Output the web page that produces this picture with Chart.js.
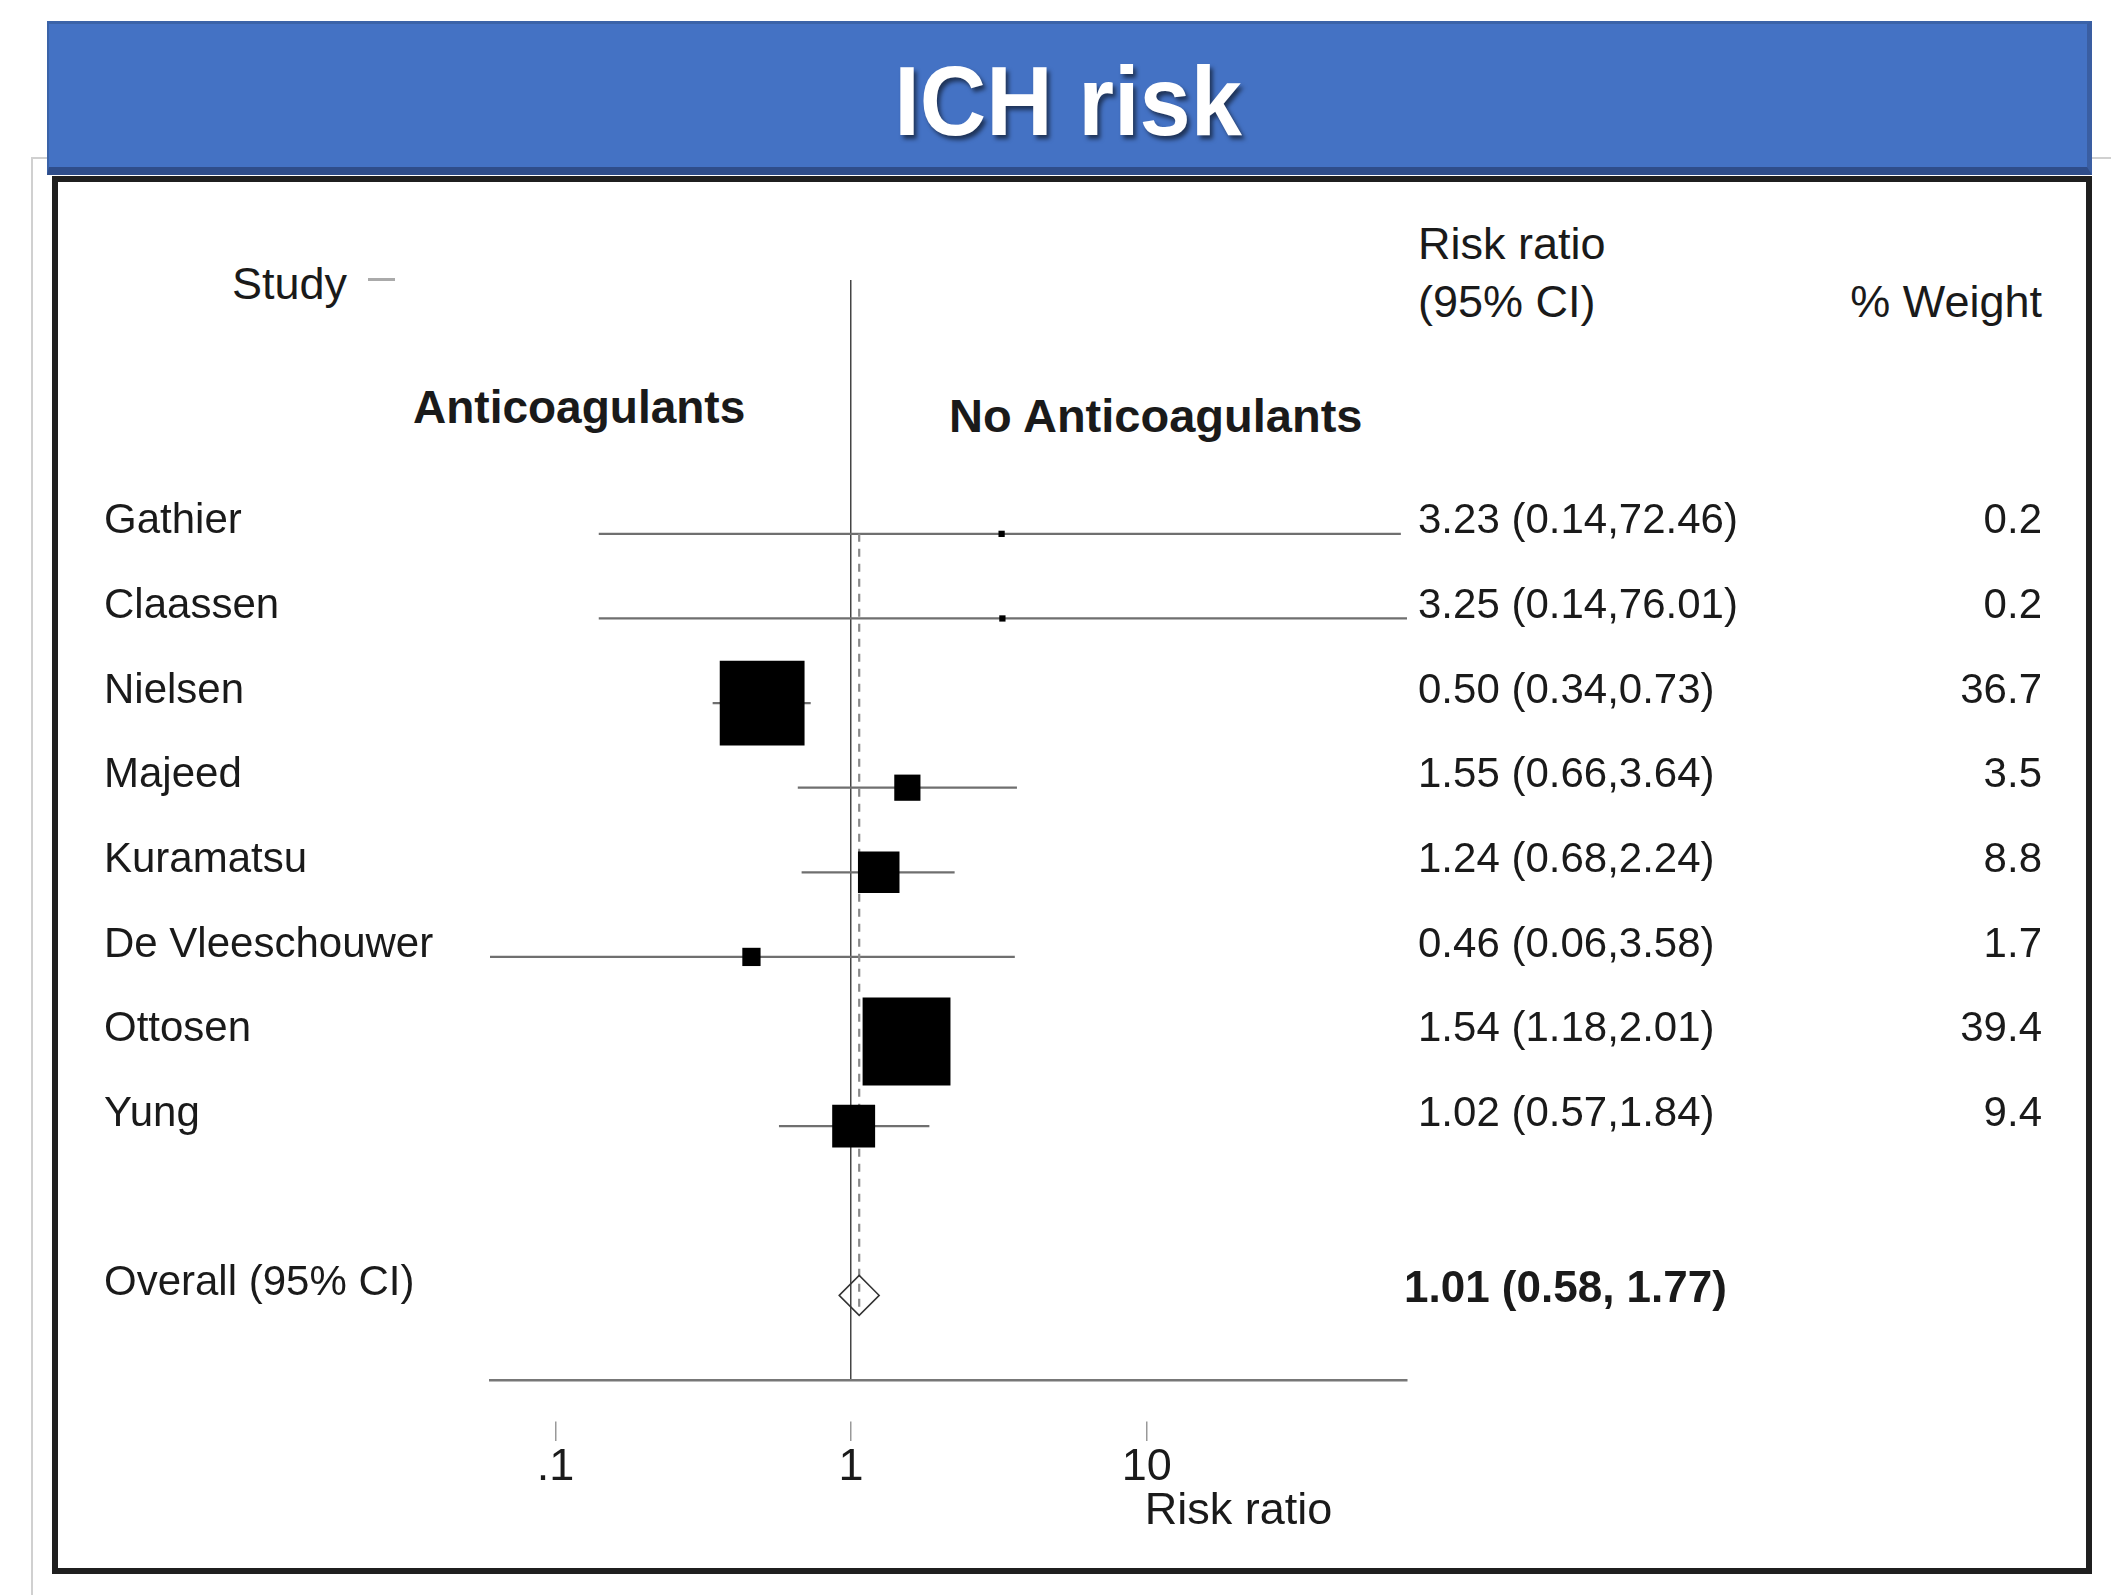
<!DOCTYPE html>
<html>
<head>
<meta charset="utf-8">
<script src="https://cdn.jsdelivr.net/npm/chart.js@4.4.1/dist/chart.umd.min.js"></script>
<style>
  html, body { margin: 0; padding: 0; background: #fff; }
  body { width: 2111px; height: 1595px; position: relative; overflow: hidden;
         font-family: "Liberation Sans", Arial, sans-serif; color: #1a1a1a; }
  .slide { position: absolute; left: 31px; top: 157px; width: 2200px; height: 1600px;
           border: 2px solid #d0d0d0; }
  .banner { position: absolute; left: 47px; top: 21px; width: 2045px; height: 154px;
            box-sizing: border-box; background: #4472c4;
            border-top: 3px solid #3b63a8; border-left: 2px solid #3b63a8;
            border-right: 5px solid #3a5ea2; border-bottom: 8px solid #2f4d8a; }
  .banner h1 { margin: 0; position: absolute; left: 0; right: 0; top: 31px;
               text-align: center; font-size: 92px; line-height: 1; font-weight: bold;
               color: #fff; text-shadow: 3px 4px 4px rgba(0,0,0,0.55);
               transform: scaleY(1.06); }
  .box { position: absolute; left: 52px; top: 176px; width: 2040px; height: 1398px;
         box-sizing: border-box; border: 6px solid #1f1f1f; background: #fff; }
  .hd { position: absolute; font-size: 45px; line-height: 1; white-space: nowrap; }
  .bold { font-weight: bold; }
  .dash { position: absolute; left: 368px; top: 278px; width: 27px; height: 3px; background: #aaa; }
  #wrap { position: absolute; left: 0; top: 0; width: 2111px; height: 1595px; }
</style>
</head>
<body>
<div class="slide"></div>
<div class="banner"><h1>ICH risk</h1></div>
<div class="box"></div>

<div class="hd" style="left:232px; top:261px;">Study</div>
<div class="dash"></div>
<div class="hd" style="left:1418px; top:221px;">Risk ratio</div>
<div class="hd" style="left:1418px; top:279px;">(95% CI)</div>
<div class="hd" style="right:69px; top:279px;">% Weight</div>
<div class="hd bold" style="left:413px; top:384px; font-size:46px;">Anticoagulants</div>
<div class="hd bold" style="left:949px; top:392px; font-size:47px;">No Anticoagulants</div>

<div id="wrap"><canvas id="forest"></canvas></div>

<script>
// studies, top to bottom
const studies = ['Gathier', 'Claassen', 'Nielsen', 'Majeed', 'Kuramatsu', 'De Vleeschouwer', 'Ottosen', 'Yung'];
const riskRatio = [3.23, 3.25, 0.50, 1.55, 1.24, 0.46, 1.54, 1.02];
const ciLow = [0.14, 0.14, 0.34, 0.66, 0.68, 0.06, 1.18, 0.57];
const ciHigh = [72.46, 76.01, 0.73, 3.64, 2.24, 3.58, 2.01, 1.84];
const weights = [0.2, 0.2, 36.7, 3.5, 8.8, 1.7, 39.4, 9.4];

// pooled estimate as printed, and where its marker sits in the plot
const overallLabel = 'Overall (95% CI)';
const overall = [1.01, 0.58, 1.77];
const overallMarker = 1.065;

const tickValues = [0.1, 1, 10];
const tickLabels = ['.1', '1', '10'];
const axisTitle = 'Risk ratio';

const overallRow = studies.length + 2;
const fmt = v => v.toFixed(2);

// squares, one per study
const squares = {
    type: 'scatter',
    data: studies.map((s, i) => ({ x: riskRatio[i], y: i + 1 })),
    pointStyle: 'rect',
    pointRadius: (ctx) => 14 * Math.sqrt(weights[ctx.dataIndex]) / Math.SQRT2,
    backgroundColor: '#000',
    borderWidth: 0,
    order: 0
};

// confidence interval lines
const ciLines = studies.map((s, i) => ({
    type: 'line',
    data: [{ x: ciLow[i], y: i + 1 }, { x: ciHigh[i], y: i + 1 }],
    borderColor: '#6f6f6f',
    borderWidth: 2.2,
    pointRadius: 0,
    order: 3
}));

const overallLine = {
    type: 'line',
    data: [{ x: overallMarker, y: 1 }, { x: overallMarker, y: overallRow + 0.2 }],
    borderColor: '#8a8a8a',
    borderWidth: 2.2,
    borderDash: [8, 7],
    pointRadius: 0,
    order: 2
};

const diamond = {
    type: 'scatter',
    data: [{ x: overallMarker, y: overallRow }],
    pointStyle: 'rectRot',
    pointRadius: 20,
    backgroundColor: 'rgba(0,0,0,0)',
    borderColor: '#333',
    borderWidth: 1.5,
    order: 1
};

// study names and numbers beside each row
const rowText = {
    id: 'rowText',
    afterDraw(chart) {
        const { ctx, scales: { x, y } } = chart;
        ctx.save();
        ctx.fillStyle = '#1a1a1a';
        ctx.textBaseline = 'middle';
        ctx.font = '42px "Liberation Sans", Arial, sans-serif';

        studies.forEach((name, i) => {
            const py = y.getPixelForValue(i + 1) - 12;
            ctx.textAlign = 'left';
            ctx.fillText(name, 104, py);
            ctx.fillText(fmt(riskRatio[i]) + ' (' + fmt(ciLow[i]) + ',' + fmt(ciHigh[i]) + ')', 1418, py);
            ctx.textAlign = 'right';
            ctx.fillText(weights[i].toFixed(1), 2042, py);
        });

        const oy = y.getPixelForValue(overallRow);
        ctx.textAlign = 'left';
        ctx.fillText(overallLabel, 104, oy - 12);
        ctx.font = 'bold 44px "Liberation Sans", Arial, sans-serif';
        ctx.fillText(fmt(overall[0]) + ' (' + fmt(overall[1]) + ', ' + fmt(overall[2]) + ')', 1404, oy - 6);

        // axis title starts at the 10 tick
        ctx.font = '45px "Liberation Sans", Arial, sans-serif';
        ctx.fillText(axisTitle, x.getPixelForValue(10) - 2, 1512);
        ctx.restore();
    }
};

const chart = new Chart(document.getElementById('forest'), {
    type: 'scatter',
    data: { datasets: [squares, diamond, overallLine, ...ciLines] },
    options: {
        responsive: true,
        maintainAspectRatio: false,
        animation: false,
        events: [],
        layout: { padding: { left: 490, right: 704, top: 280, bottom: 95 } },
        plugins: { legend: { display: false }, tooltip: { enabled: false } },
        scales: {
            x: {
                type: 'logarithmic',
                min: Math.min(...ciLow),
                max: Math.max(...ciHigh),
                afterBuildTicks: (scale) => { scale.ticks = tickValues.map(v => ({ value: v })); },
                afterFit: (scale) => { scale.height = 120; },
                ticks: {
                    autoSkip: false,
                    maxRotation: 0,
                    padding: 0,
                    color: '#1a1a1a',
                    font: { family: '"Liberation Sans", Arial, sans-serif', size: 45 },
                    callback: (v, i) => tickLabels[i]
                },
                grid: {
                    drawOnChartArea: true,
                    drawTicks: true,
                    color: (ctx) => (ctx.tick && ctx.tick.value === 1) ? '#444' : 'rgba(0,0,0,0)',
                    lineWidth: 1.5,
                    tickLength: 61,
                    tickColor: '#999',
                    tickWidth: 1.5,
                    tickBorderDash: [21, 100],
                    tickBorderDashOffset: 81
                },
                border: { display: true, color: '#777', width: 2.5 }
            },
            y: {
                type: 'linear',
                display: false,
                reverse: true,
                min: -2,
                max: studies.length + 3
            }
        }
    },
    plugins: [rowText]
});
</script>
</body>
</html>
